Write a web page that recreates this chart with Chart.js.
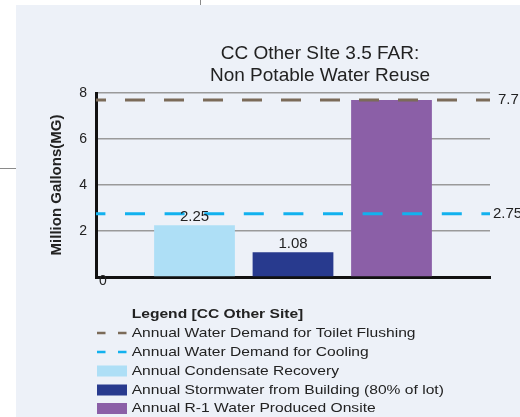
<!DOCTYPE html>
<html><head><meta charset="utf-8">
<script src="https://cdn.jsdelivr.net/npm/chart.js@4/dist/chart.umd.min.js"></script>
<style>
html,body{margin:0;padding:0;background:#fff;}
#wrap{position:relative;width:520px;height:417px;overflow:hidden;}
canvas{position:absolute;left:0;top:0;}
.v{position:absolute;left:200px;top:0;width:1px;height:5px;background:#8a8a8a;}
.h{position:absolute;left:0;top:168px;width:16px;height:1px;background:#8a8a8a;}
</style></head><body>
<div id="wrap"><canvas id="c" width="520" height="417"></canvas><div class="v"></div><div class="h"></div></div>
<script>
// ---- data ----
const titleLines = ['CC Other SIte 3.5 FAR:', 'Non Potable Water Reuse'];
const yAxisTitle = 'Million Gallons(MG)';
const yTickValues = [0, 2, 4, 6, 8];
const slots = ['', 'Annual Condensate Recovery', 'Annual Stormwater from Building (80% of lot)', 'Annual R-1 Water Produced Onsite', ''];
const barValues = [null, 2.25, 1.08, 7.7, null];
const barValueText = ['', '2.25', '1.08', '', ''];
const toiletDemand = [7.7, 7.7, 7.7, 7.7, 7.7];
const coolingDemand = [2.75, 2.75, 2.75, 2.75, 2.75];
const lineEndText = ['7.7', '2.75'];
const legendTitle = 'Legend [CC Other Site]';
const legendLabels = ['Annual Water Demand for Toilet Flushing', 'Annual Water Demand for Cooling',
  'Annual Condensate Recovery', 'Annual Stormwater from Building (80% of lot)', 'Annual R-1 Water Produced Onsite'];

// ---- styles ----
const FONT = "'Liberation Sans', Arial, sans-serif";
const PANEL = '#edf1f8';
const barColors = ['rgba(0,0,0,0)', '#aedff6', '#283a8e', '#8b5fa7', 'rgba(0,0,0,0)'];
const toiletColor = '#7b6b59';
const coolingColor = '#12b1ee';
const legendKinds = [['line', toiletColor], ['line', coolingColor], ['box', barColors[1]], ['box', barColors[2]], ['box', barColors[3]]];

Chart.defaults.font.family = FONT;

const extras = {
  id: 'extras',
  beforeDraw(chart) {
    const ctx = chart.ctx;
    ctx.save();
    ctx.fillStyle = PANEL;
    ctx.fillRect(16, 5, chart.width - 16, chart.height - 5);
    ctx.restore();
  },
  afterLayout(chart) {
    if (chart.titleBlock) { chart.titleBlock.left = 150; chart.titleBlock.right = 490; }
  },
  afterDatasetsDraw(chart) {
    const ctx = chart.ctx;
    const y = chart.scales.y, x = chart.scales.x;
    ctx.save();
    ctx.fillStyle = '#222';
    ctx.font = '15px ' + FONT;
    ctx.textAlign = 'center';
    ctx.textBaseline = 'middle';
    const meta = chart.getDatasetMeta(2);
    meta.data.forEach((el, i) => {
      if (barValueText[i]) ctx.fillText(barValueText[i], el.x, el.y - 8);
    });
    ctx.textAlign = 'left';
    ctx.fillText(lineEndText[0], x.right + 8, y.getPixelForValue(toiletDemand[toiletDemand.length - 1]));
    ctx.fillText(lineEndText[1], x.right + 3, y.getPixelForValue(coolingDemand[coolingDemand.length - 1]));
    ctx.font = '14px ' + FONT;
    ctx.textAlign = 'center';
    ctx.fillText(String(yTickValues[0]), x.left + 7, y.getPixelForValue(yTickValues[0]) + 4);
    ctx.restore();
  },
  afterDraw(chart) {
    const ctx = chart.ctx;
    const tx = 131.7, sx = 1.2;
    const rows = [333, 352, 371, 390, 408.5];
    ctx.save();
    ctx.fillStyle = '#222';
    ctx.textBaseline = 'middle';
    ctx.textAlign = 'left';
    const drawText = (t, xx, yy, font) => {
      ctx.save();
      ctx.translate(xx, yy);
      ctx.scale(sx, 1);
      ctx.font = font;
      ctx.fillText(t, 0, 0);
      ctx.restore();
    };
    drawText(legendTitle, tx, 314, 'bold 13px ' + FONT);
    legendLabels.forEach((lab, i) => {
      const yy = rows[i];
      const [kind, col] = legendKinds[i];
      if (kind === 'line') {
        ctx.save();
        ctx.strokeStyle = col;
        ctx.lineWidth = 2.5;
        ctx.setLineDash([8.5, 12.5]);
        ctx.beginPath();
        ctx.moveTo(97, yy);
        ctx.lineTo(128, yy);
        ctx.stroke();
        ctx.restore();
      } else {
        ctx.fillStyle = col;
        ctx.fillRect(97, yy - 5.5, 30, 11);
      }
      ctx.fillStyle = '#222';
      drawText(lab, tx, yy, '13px ' + FONT);
    });
    ctx.restore();
  }
};

new Chart(document.getElementById('c'), {
  data: {
    labels: slots,
    datasets: [
      { type: 'line', label: legendLabels[0], data: toiletDemand, borderColor: toiletColor, borderWidth: 3,
        borderDash: [20, 19], borderDashOffset: 10, pointRadius: 0, fill: false, tension: 0, order: 0 },
      { type: 'line', label: legendLabels[1], data: coolingDemand, borderColor: coolingColor, borderWidth: 3,
        borderDash: [20, 19.6], borderDashOffset: 10.6, pointRadius: 0, fill: false, tension: 0, order: 0 },
      { type: 'bar', label: 'bars', data: barValues, backgroundColor: barColors, borderWidth: 0,
        barPercentage: 1, categoryPercentage: 0.82, order: 1 }
    ]
  },
  options: {
    responsive: false,
    animation: false,
    layout: { padding: { left: 40, right: 30, top: 0, bottom: 140 } },
    plugins: {
      legend: { display: false },
      tooltip: { enabled: false },
      title: { display: true, text: titleLines, color: '#222',
        font: { size: 19, weight: 'normal', lineHeight: 1.2 }, padding: { top: 42, bottom: 5.4 } }
    },
    scales: {
      x: { type: 'category', offset: false,
        grid: { display: false, drawTicks: false },
        border: { display: true, color: '#111', width: 3 },
        ticks: { display: false } },
      y: { min: 0, max: 8,
        afterFit(s) { s.width = 56; },
        ticks: { stepSize: 2, padding: 9, color: '#222', font: { size: 14 },
          callback: (v) => (v === yTickValues[0] ? '' : v) },
        grid: { color: '#9a9a9a', lineWidth: 1.5, drawTicks: false },
        border: { color: '#111', width: 3 },
        title: { display: true, text: yAxisTitle, color: '#222', font: { size: 15, weight: 'bold' },
          padding: { top: 8, bottom: 0 } } }
    }
  },
  plugins: [extras]
});
</script>
</body></html>
